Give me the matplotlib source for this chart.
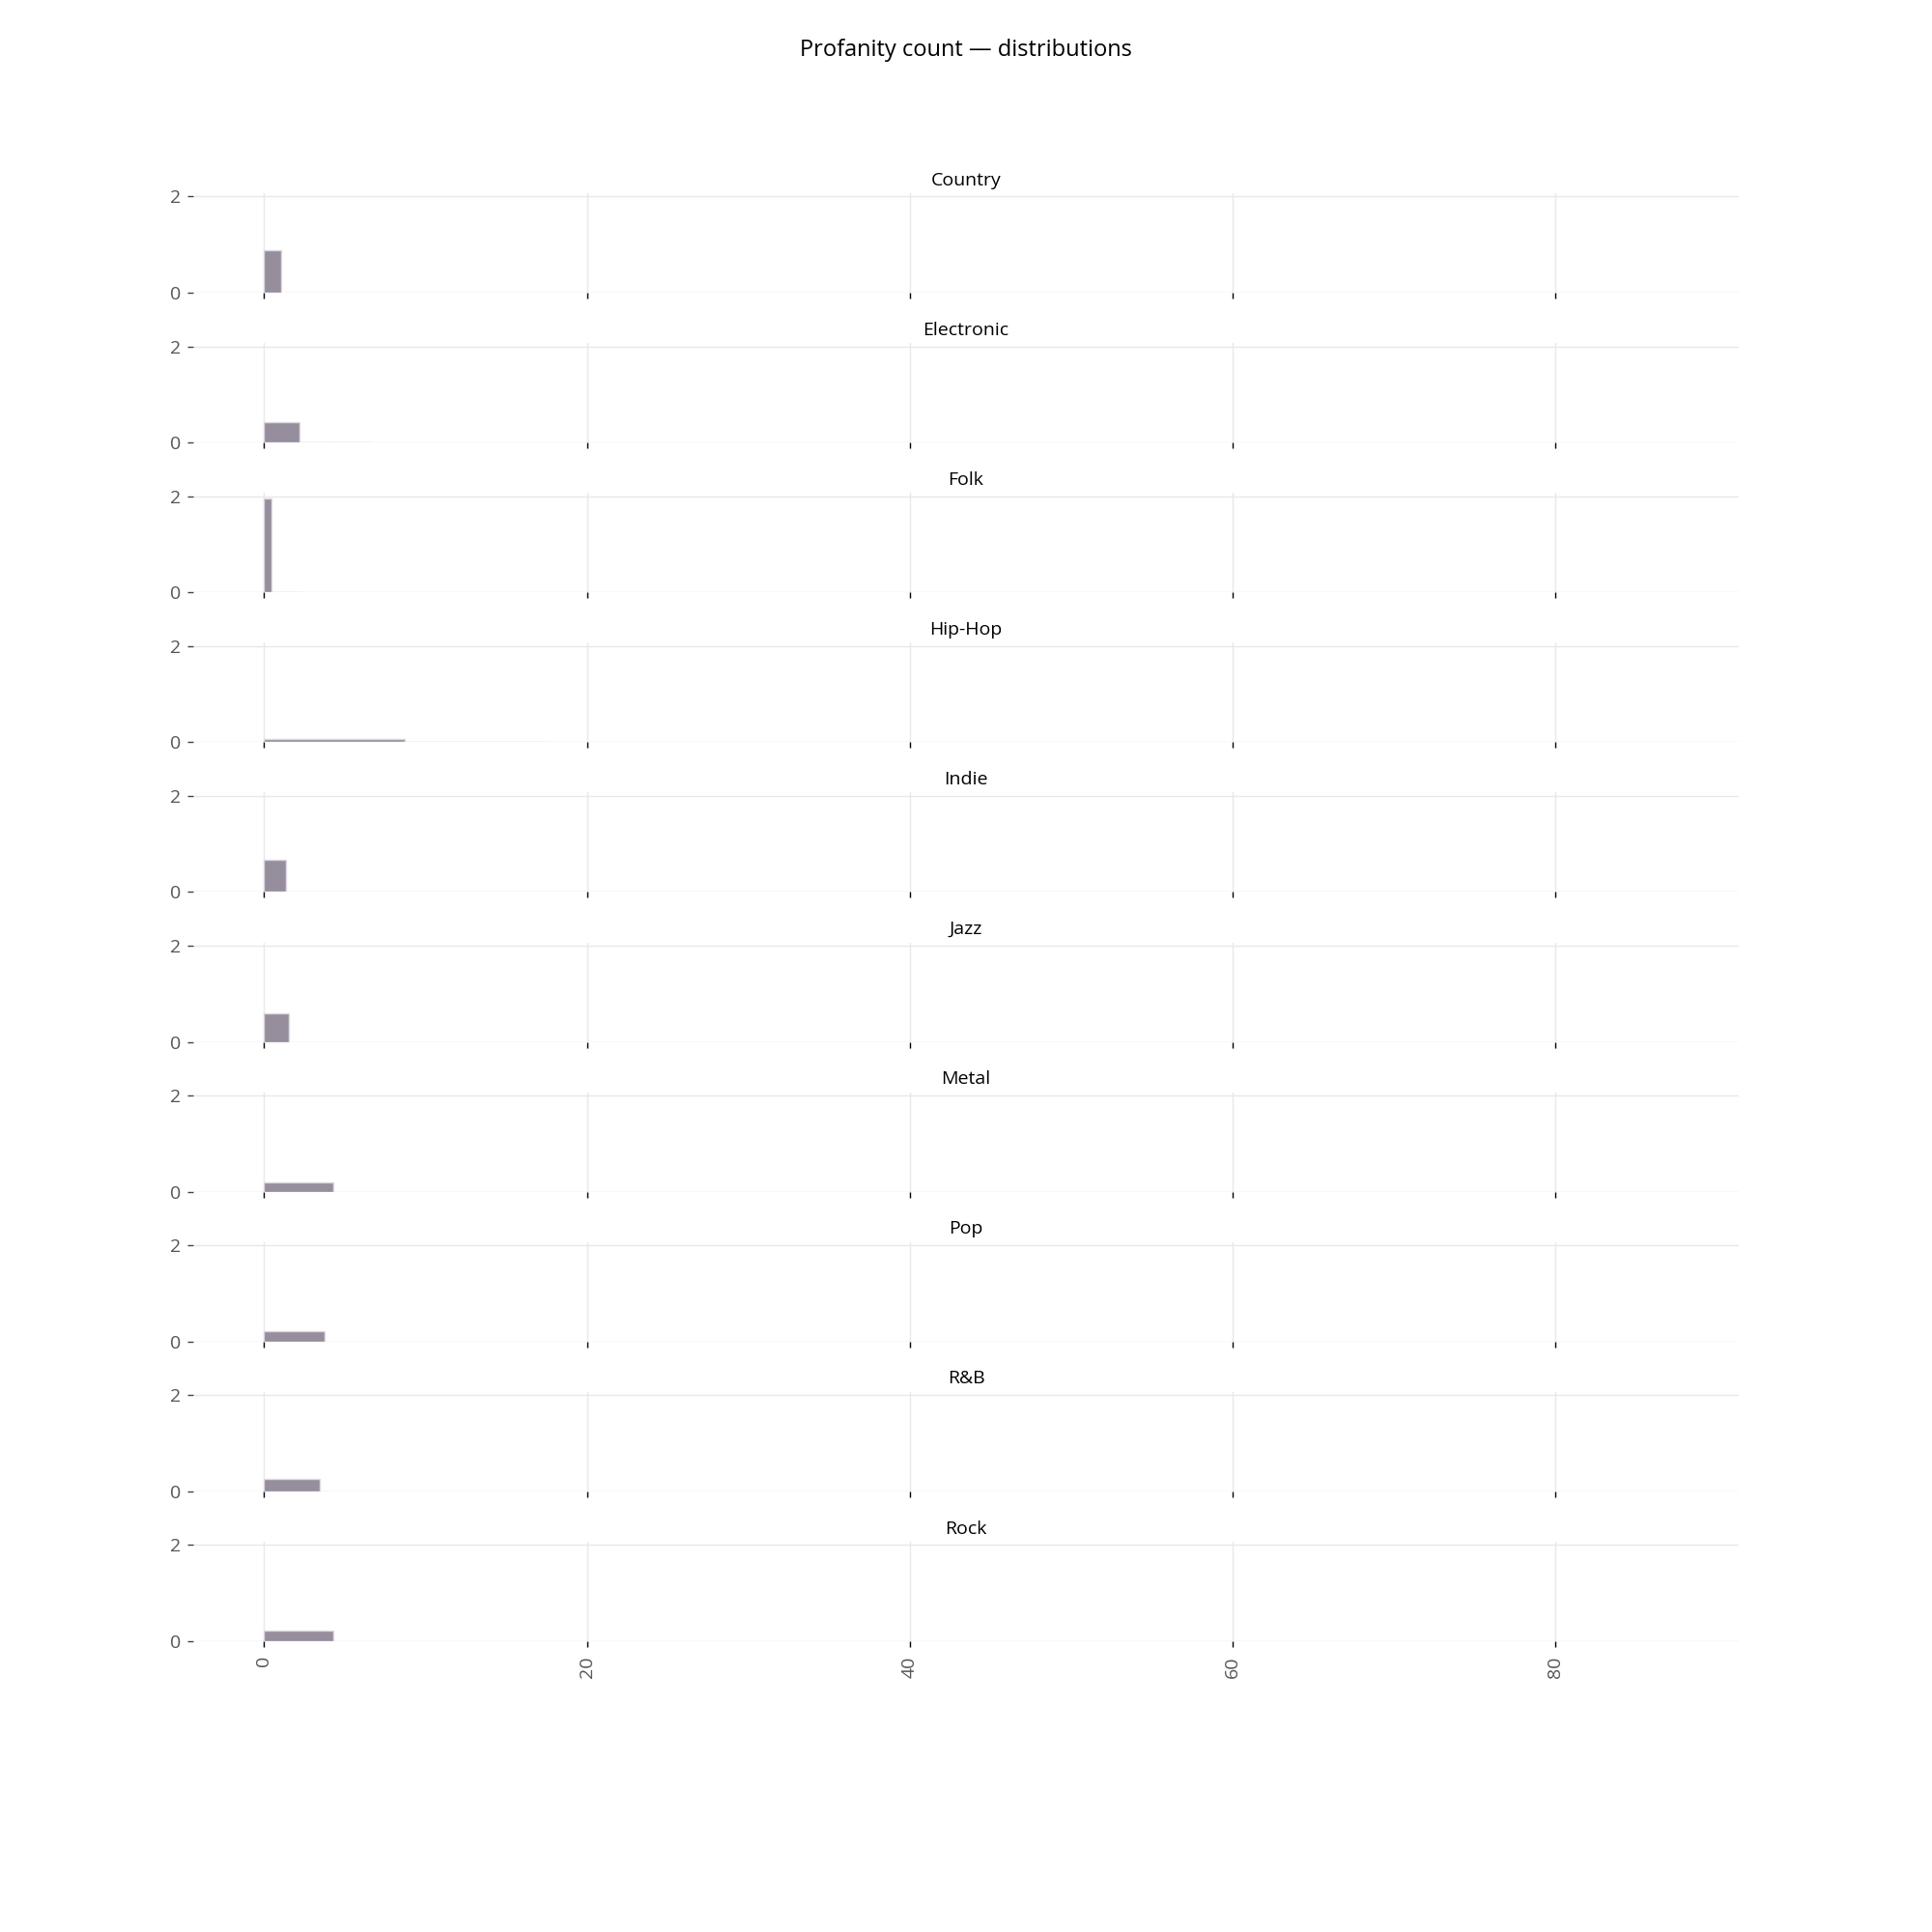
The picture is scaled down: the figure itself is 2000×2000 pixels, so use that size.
import numpy as np
import matplotlib.pyplot as plt

plt.rcParams['font.family'] = ['Open Sans', 'DejaVu Sans']

genres = ["Country", "Electronic", "Folk", "Hip-Hop", "Indie",
          "Jazz", "Metal", "Pop", "R&B", "Rock"]

# bin width and density per bin
bin_widths = [1.07, 2.2, 0.46, 8.7, 1.34, 1.54, 4.3, 3.74, 3.44, 4.3]
densities = [
    [0.88],
    [0.43, 0.008, 0.008],
    [1.95, 0.0, 0.012, 0.012, 0.012],
    [0.075, 0.008],
    [0.67],
    [0.59],
    [0.19],
    [0.22],
    [0.25],
    [0.21],
]

xticks = [0, 20, 40, 60, 80]
yticks = [0, 2]

fig = plt.figure(figsize=(20, 20), dpi=100)
fig.text(0.5, 0.974, "Profanity count \u2014 distributions", ha='center', va='center',
         fontsize=17, color='black')

W, H = 2000.0, 2000.0
for i, g in enumerate(genres):
    top = 200 + 155.1 * i
    ax = fig.add_axes([200 / W, 1 - (top + 103) / H, 1600 / W, 103 / H])
    d = np.array(densities[i])
    edges = np.arange(len(d)) * bin_widths[i]
    ax.bar(edges, d, width=bin_widths[i], align='edge', color='#978e9d',
           edgecolor='#dcd8e0', linewidth=1.0, zorder=3)
    ax.set_xlim(-4.4, 91.4)
    ax.set_ylim(0, 2.07)
    ax.set_xticks(xticks)
    ax.set_yticks(yticks)
    for s in ax.spines.values():
        s.set_visible(False)
    ax.grid(True, color='#e8e8e8', linewidth=1.0, zorder=0)
    ax.axhline(0, color='#f6f6f6', linewidth=1.0, zorder=1)
    ax.tick_params(axis='y', length=4, width=1, color='#444444', pad=5,
                   labelsize=14, labelcolor='#555555')
    ax.tick_params(axis='x', length=4, width=1, color='black', pad=7,
                   labelsize=14, labelcolor='#555555', labelrotation=90)
    if i < len(genres) - 1:
        ax.set_xticklabels([])
    ax.set_title(g, fontsize=14, color='black', pad=6)

fig.savefig("out.png", dpi=100, facecolor='white')
